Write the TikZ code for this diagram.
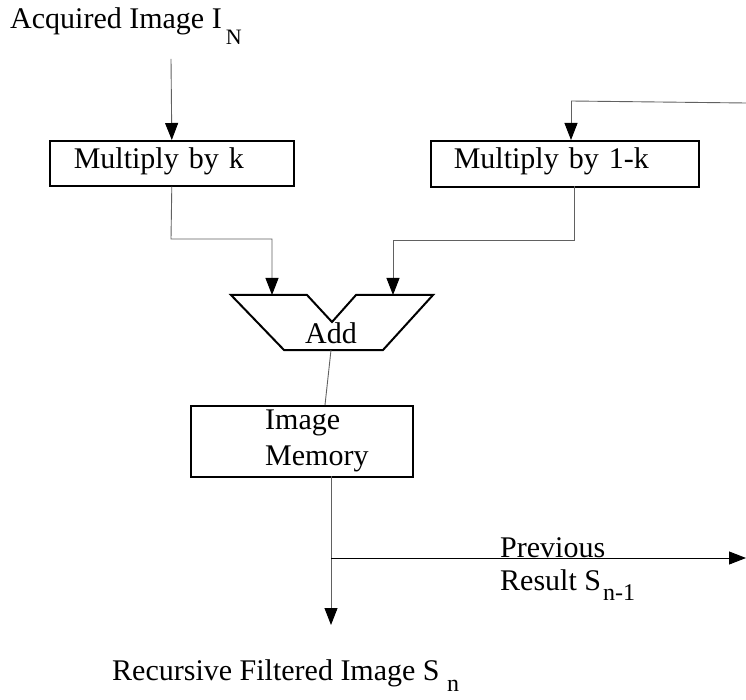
\documentclass[tikz,border=0pt]{standalone}
\usepackage{fontspec}
\setmainfont{Liberation Serif}
\usetikzlibrary{arrows.meta}
\newcommand\lowsub[3][16pt]{\raisebox{-#1}{\fontsize{#2}{#2}\selectfont #3}}
\begin{document}
\begin{tikzpicture}[x=1pt,y=-1pt,
  font=\fontsize{30}{36}\selectfont,
  box/.style={draw,line width=1.6pt,anchor=north west,inner ysep=0pt,align=left},
  conn/.style={draw=black!62,line width=0.9pt},
  arr/.style={conn,-{Triangle[length=17pt,width=13pt,black]}},
  lbl/.style={anchor=base west,inner sep=0pt}]
\useasboundingbox (0,0) rectangle (746,700);
% labels
\node[lbl] (acq) at (10,29) {Acquired Image I\hspace{4pt}\lowsub{22}{N}};
\node[lbl] (prev) at (500,557) {Previous};
\node[lbl] (res) at (500,590) {Result S\hspace{2pt}\lowsub[10pt]{24}{n-1}};
\node[lbl] (rec) at (112,680) {Recursive Filtered Image S \lowsub[11pt]{24}{n}};
% boxes
\node[box,minimum width=244pt,inner xsep=24pt,text width=196pt,text height=28pt,text depth=17pt] (m1) at (49,140) {Multiply by k};
\node[box,minimum width=268pt,inner xsep=23pt,text width=222pt,text height=28pt,text depth=18pt] (m2) at (430,140) {Multiply by 1-k};
\node[box,minimum width=222pt,minimum height=71pt] (mem) at (190,405) {};
\node[anchor=west,align=left,inner sep=0pt] (memtxt) at (265,441) {Image\\Memory};
% adder
\draw[line width=2pt,line join=miter] (231,295) -- (307,295) -- (332,322) -- (356,295) -- (433,295) -- (383,350) -- (284,350) -- cycle;
\node (add) at (331,333) {Add};
\coordinate (addL) at (272,295);
\coordinate (addR) at (393,295);
\coordinate (addB) at (331,350);
% coordinates
\coordinate (inTop) at (171,59);
\coordinate (fbR) at (746,103);
\coordinate (fbC) at (571,101);
\coordinate (b1) at (171,239);
\coordinate (b2top) at (574,186);
\coordinate (b2) at (574,240);
\coordinate (memT) at (325,405);
\coordinate (memB) at (331,476);
\coordinate (split) at (331,558);
\coordinate (outTip) at (331,625);
\coordinate (prevTip) at (746,558);
% connectors
\draw[arr] (inTop) -- (m1.north);
\draw[conn] (fbR) -- (fbC);
\draw[arr] (fbC) -- (fbC |- m2.north);
\draw[arr] (m1.south) -- (b1) -| (addL);
\draw[arr] (b2top) -- (b2) -| (addR);
\draw[conn] (addB) -- (memT);
\draw[arr] (memB) -- (outTip);
\draw[arr,draw=black] (split) -- (prevTip);
\end{tikzpicture}
\end{document}
